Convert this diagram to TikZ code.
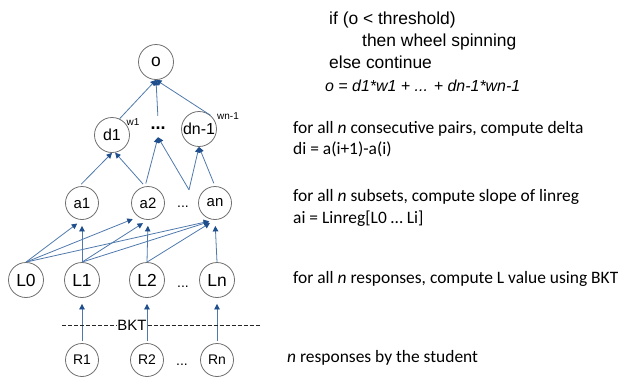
\documentclass[tikz,border=0pt]{standalone}
\usepackage{fontspec}
\setmainfont{Liberation Sans}
\newfontfamily\calibri{Carlito}
\usetikzlibrary{arrows.meta,positioning}
\definecolor{edgecolor}{HTML}{4F79AC}
\definecolor{tipcolor}{HTML}{1F4E8C}
\definecolor{ringcolor}{HTML}{6F6F6F}

\begin{document}
\begin{tikzpicture}[
    x=1bp, y=-1bp,
    state/.style={
        circle,
        draw=ringcolor,
        line width=0.8bp,
        minimum size=33bp,
        inner sep=0pt,
        font=\fontsize{15}{18}\selectfont
    },
    bigstate/.style={state, minimum size=35bp, font=\fontsize{17.5}{20}\selectfont},
    dstate/.style={state, minimum size=35bp, font=\fontsize{16}{19}\selectfont},
    rstate/.style={state, font=\fontsize{14}{17}\selectfont},
    dots/.style={inner sep=0pt, font=\fontsize{14}{16}\selectfont},
    flowline/.style={draw=edgecolor, line width=0.8bp, -{Triangle[color=tipcolor, length=5.5bp, width=5.5bp]}},
    gapline/.style={flowline, shorten >=6bp},
    notestyle/.style={anchor=west, align=left, inner sep=0pt, font=\calibri\fontsize{17.5}{21.5}\selectfont},
    weightstyle/.style={inner sep=0pt, font=\fontsize{10}{12}\selectfont}
]

\useasboundingbox (0,0) rectangle (618,377);

% --- NODES ---

% Output
\node[bigstate] (o) at (156,62) {o};

% Deltas
\node[dstate] (d1) at (112,135) {d1};
\node[dots, font=\bfseries\fontsize{18}{20}\selectfont, minimum height=18bp] (dd) at (158,128) {...};
\node[dstate] (dn) at (199,129) {dn-1};

\node[weightstyle] (w1) at (133,122) {w1};
\node[weightstyle] (wn) at (228,116) {wn-1};

% Slopes
\node[state] (a1) at (82,203) {a1};
\node[state] (a2) at (148,203) {a2};
\node[dots, minimum height=34bp] (ad) at (183,207) {...};
\node[state] (an) at (215,203) {an};

% L values
\node[bigstate] (L0) at (26,280) {L0};
\node[bigstate] (L1) at (82,280) {L1};
\node[bigstate] (L2) at (147,280) {L2};
\node[dots] (Ld) at (183,287) {...};
\node[bigstate] (Ln) at (217,280) {Ln};

% Responses
\node[rstate] (R1) at (82,360) {R1};
\node[rstate] (R2) at (147,360) {R2};
\node[dots] (Rd) at (182,365) {...};
\node[rstate] (Rn) at (217,360) {Rn};

% BKT separator
\coordinate (bktl) at (62,325);
\coordinate (bktr) at (261,325);
\node[inner sep=1bp, font=\fontsize{15}{18}\selectfont] (bkt) at (132,325) {BKT};

% --- PATHS & ARROWS ---

% Deltas to output
\draw[flowline] (d1.65) -- (o.south);
\draw[flowline, shorten <=3bp] (dd.north) -- (o.south);
\draw[flowline] (dn.50) -- (o.south);

% Slopes to deltas
\draw[flowline, shorten <=3bp] (a1.100) -- (d1.south);
\draw[flowline, shorten <=3bp] (a2.100) -- (d1.280);
\draw[flowline, shorten <=3bp] (a2.100) -- (dd.south);
\draw[flowline] (ad.north east) -- (dd.south);
\draw[flowline] (ad.north east) -- (dn.south);
\draw[flowline, shorten <=3bp] (an.north) -- (dn.south);

% L values to slopes
\foreach \s/\t/\k in {L0/a1/south, L0/a2/235, L0/an/south, L1/a1/south, L1/a2/south,
                      L1/an/south, L2/a2/south, L2/an/south, Ln/an/south}
    \draw[gapline] (\s.north) -- (\t.\k);

% Responses to L values
\foreach \r/\l in {R1/L1, R2/L2, Rn/Ln}
    \draw[gapline, shorten <=2bp] (\r) -- (\l);

\draw[draw=black!85, line width=0.7bp, dash pattern=on 4bp off 2bp] (bktl) -- (bkt.west);
\draw[draw=black!85, line width=0.7bp, dash pattern=on 4bp off 2bp] (bkt.east) -- (bktr);

% --- NOTES ---
\node[anchor=west, align=left, inner sep=0pt, font=\fontsize{17.5}{22}\selectfont] (cond) at (329,40)
    {if (o < threshold)\\\hspace*{33bp}then wheel spinning\\else continue};
\node[anchor=west, inner sep=0pt, font=\itshape\fontsize{16}{18}\selectfont] (sum) at (325,86)
    {o = d1*w1 + ... + dn-1*wn-1};

\node[notestyle] (deltanote) at (293,139) {for all \textit{n} consecutive pairs, compute delta\\di = a(i+1)-a(i)};
\node[notestyle] (slopenote) at (293,208) {for all \textit{n} subsets, compute slope of linreg\\ai = Linreg[L0 … Li]};
\node[notestyle] (bktnote) at (293,279) {for all \textit{n} responses, compute L value using BKT};
\node[notestyle] (respnote) at (287,358) {\textit{n} responses by the student};

\end{tikzpicture}
\end{document}
